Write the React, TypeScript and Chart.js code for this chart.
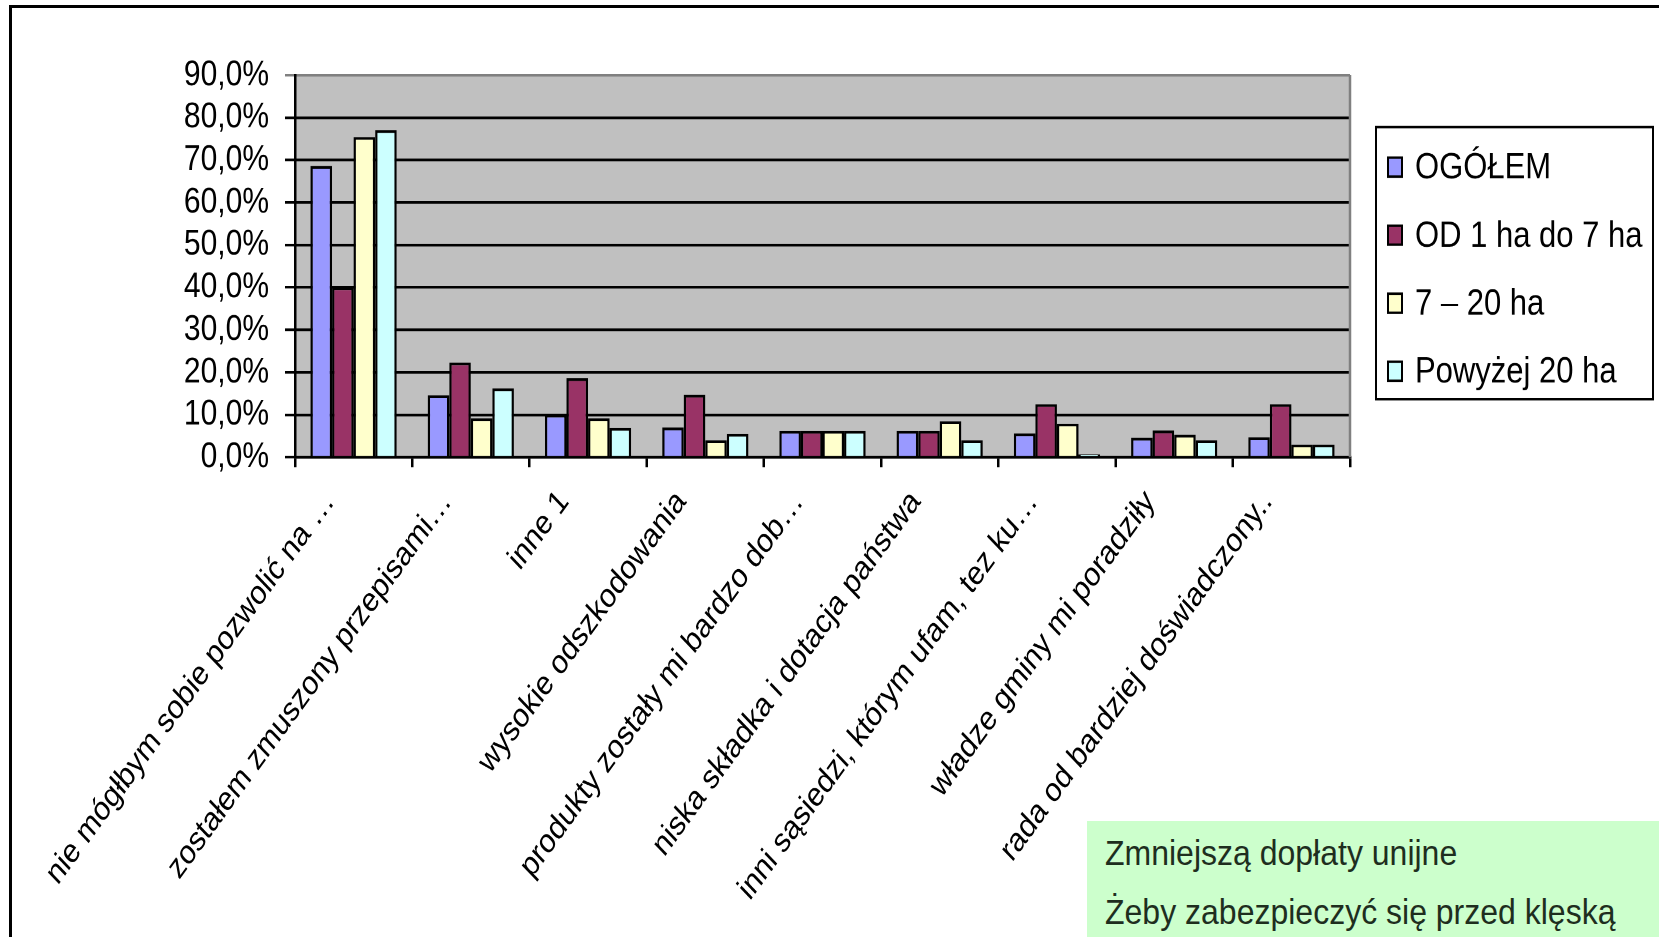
import React, { useEffect, useRef } from "react";
import { Chart, registerables } from "chart.js";

Chart.register(...registerables);

const categories = [
  "nie mógłbym sobie pozwolić na …",
  "zostałem zmuszony przepisami…",
  "inne 1",
  "wysokie odszkodowania",
  "produkty zostały mi bardzo dob…",
  "niska składka i dotacja państwa",
  "inni sąsiedzi, którym ufam, tez ku…",
  "władze gminy mi poradziły",
  "rada od bardziej doświadczony..",
];

const seriesNames = ["OGÓŁEM", "OD 1 ha do 7 ha", "7 – 20 ha", "Powyżej 20 ha"];
const ogolem = [68.6, 14.6, 10.0, 7.0, 6.2, 6.2, 5.6, 4.6, 4.7];
const od1do7 = [40.0, 22.3, 18.6, 14.7, 6.2, 6.2, 12.5, 6.3, 12.5];
const od7do20 = [75.4, 9.2, 9.2, 4.0, 6.2, 8.5, 7.9, 5.3, 3.0];
const powyzej20 = [77.0, 16.2, 6.9, 5.5, 6.2, 4.0, 0.7, 4.0, 3.0];
const seriesColors = ["#9999ff", "#993366", "#ffffcc", "#ccffff"];
const yMin = 0;
const yMax = 90;
const yStep = 10;
const noteLines = ["Zmniejszą dopłaty unijne", "Żeby zabezpieczyć się przed klęską"];

const seriesValues = [ogolem, od1do7, od7do20, powyzej20];

const FONT = "'Liberation Sans', Arial, sans-serif";
// the reference picture is vertically stretched; the chart canvas is drawn
// at a reduced height and stretched back with CSS
const S = 1.2;
const PAGE_W = 1659;
const PAGE_H = 937;

const plotDecor = {
  id: "plotDecor",
  beforeDraw(chart: any) {
    const { ctx, chartArea } = chart;
    ctx.save();
    ctx.fillStyle = "#c0c0c0";
    ctx.fillRect(chartArea.left, chartArea.top, chartArea.right - chartArea.left, chartArea.bottom - chartArea.top);
    ctx.restore();
  },
  afterDraw(chart: any) {
    const { ctx, chartArea } = chart;
    ctx.save();
    ctx.strokeStyle = "#808080";
    ctx.lineWidth = 2.5;
    ctx.beginPath();
    ctx.moveTo(chartArea.right, chartArea.top);
    ctx.lineTo(chartArea.right, chartArea.bottom);
    ctx.stroke();

    // legend
    const lx = chartArea.right + 26;
    const ly = 127 / S;
    const lw = 277;
    const lh = 272 / S;
    ctx.fillStyle = "#ffffff";
    ctx.fillRect(lx, ly, lw, lh);
    ctx.strokeStyle = "#000000";
    ctx.lineWidth = 2;
    ctx.strokeRect(lx, ly, lw, lh);
    ctx.font = "31px " + FONT;
    ctx.textBaseline = "middle";
    ctx.textAlign = "left";
    chart.data.datasets.forEach((ds: any, i: number) => {
      const cy = ly + (40 + i * 68) / S;
      const mh = 19 / S;
      ctx.fillStyle = ds.backgroundColor;
      ctx.fillRect(lx + 12, cy - mh / 2, 14, mh);
      ctx.strokeStyle = "#000";
      ctx.lineWidth = 2;
      ctx.strokeRect(lx + 12, cy - mh / 2, 14, mh);
      ctx.fillStyle = "#000";
      ctx.fillText(ds.label, lx + 39, cy + 1);
    });
    ctx.restore();
  },
};

export default function App() {
  const canvasRef = useRef<HTMLCanvasElement | null>(null);

  useEffect(() => {
    if (!canvasRef.current) return;
    const chart = new Chart(canvasRef.current, {
      type: "bar",
      data: {
        labels: categories,
        datasets: seriesNames.map((name, i) => ({
          label: name,
          data: seriesValues[i],
          backgroundColor: seriesColors[i],
          borderColor: "#000000",
          borderWidth: 2.3,
          borderSkipped: "bottom",
          barPercentage: 1,
          categoryPercentage: 0.735,
        })),
      },
      options: {
        responsive: true,
        maintainAspectRatio: false,
        animation: false,
        devicePixelRatio: 2,
        events: [],
        layout: { padding: { left: 0, top: 75 / S, right: 309, bottom: 0 } },
        plugins: {
          legend: { display: false },
          tooltip: { enabled: false },
          title: { display: false },
        },
        scales: {
          x: {
            offset: true,
            afterFit: (s: any) => {
              s.height = 480 / S;
            },
            grid: {
              display: true,
              drawOnChartArea: false,
              drawTicks: true,
              tickLength: 10 / S,
              color: "#000000",
              lineWidth: 2.5,
              offset: true,
            },
            border: { display: true, color: "#000000", width: 2.2 },
            ticks: {
              autoSkip: false,
              maxRotation: 49,
              minRotation: 49,
              padding: 13,
              labelOffset: -24,
              color: "#000000",
              font: { family: FONT, size: 28 },
            },
          },
          y: {
            min: yMin,
            max: yMax,
            afterFit: (s: any) => {
              s.width = 295;
            },
            grid: {
              color: (c: any) => (c.tick && c.tick.value === yMax ? "#808080" : "#000000"),
              lineWidth: 2.2,
              drawTicks: true,
              tickLength: 10,
            },
            border: { display: true, color: "#000000", width: 2.5 },
            ticks: {
              stepSize: yStep,
              autoSkip: false,
              padding: 16,
              color: "#000000",
              font: { family: FONT, size: 30 },
              callback: (v: any) => Number(v).toFixed(1).replace(".", ",") + "%",
            },
          },
        },
      },
      plugins: [plotDecor],
    });
    return () => chart.destroy();
  }, []);

  return (
    <div
      style={{
        position: "fixed",
        left: 0,
        top: 0,
        width: PAGE_W,
        height: PAGE_H,
        overflow: "hidden",
        background: "#ffffff",
      }}
    >
      <div
        style={{
          position: "absolute",
          left: 9,
          top: 5,
          width: 1800,
          height: 1100,
          border: "3px solid #000000",
          boxSizing: "border-box",
        }}
      />
      <div
        style={{
          position: "absolute",
          left: 0,
          top: 0,
          width: PAGE_W,
          height: PAGE_H / S,
          transform: `scaleY(${S})`,
          transformOrigin: "0 0",
        }}
      >
        <canvas ref={canvasRef} />
      </div>
      <div
        style={{
          position: "absolute",
          left: 1087,
          top: 821,
          width: 700,
          height: 200,
          background: "#ccffcc",
          fontFamily: FONT,
          fontSize: 32,
          color: "#1e2e1e",
          whiteSpace: "nowrap",
        }}
      >
        <div style={{ position: "absolute", left: 18, top: 12, lineHeight: "40px", transform: "scaleY(1.1)" }}>
          {noteLines[0]}
        </div>
        <div style={{ position: "absolute", left: 18, top: 71, lineHeight: "40px", transform: "scaleY(1.1)" }}>
          {noteLines[1]}
        </div>
      </div>
    </div>
  );
}
